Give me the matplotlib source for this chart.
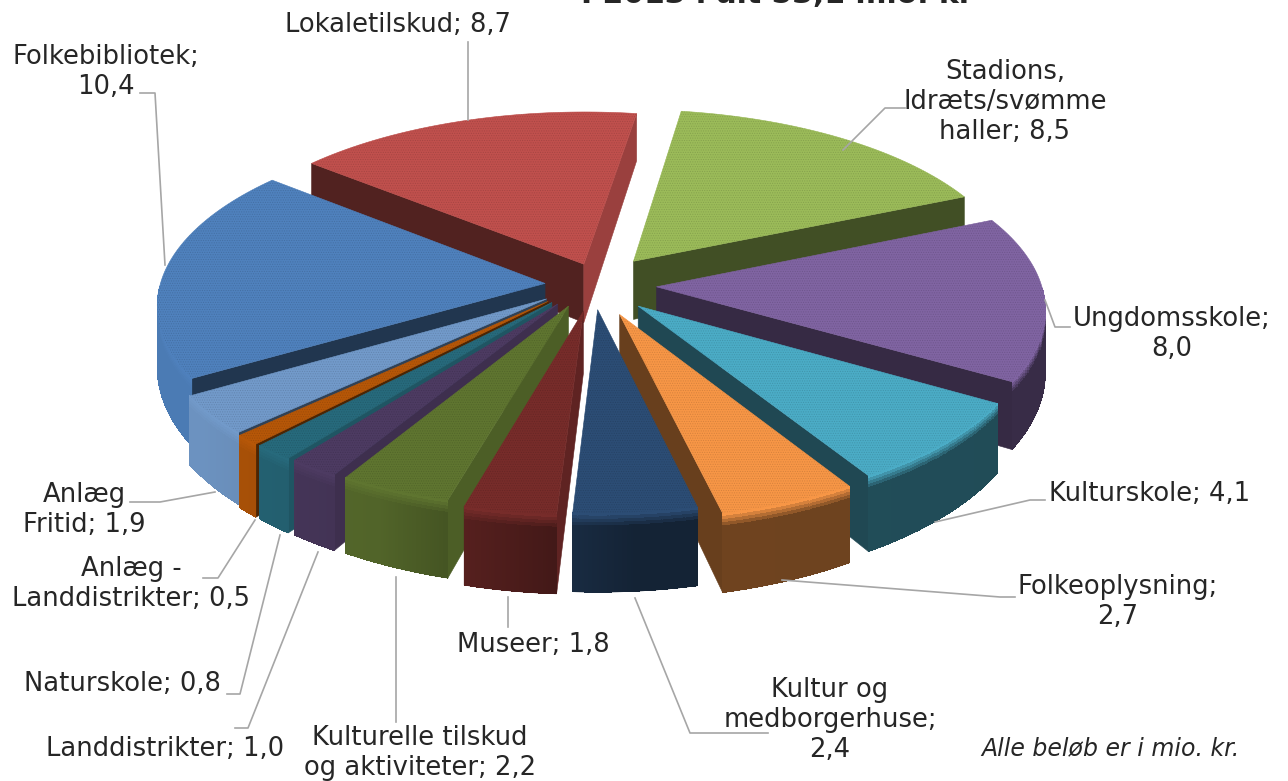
import numpy as np
import matplotlib
matplotlib.use('Agg')
import matplotlib.pyplot as plt
from matplotlib.patches import Polygon
from matplotlib.colors import to_rgb

categories = ['Folkebibliotek', 'Lokaletilskud', 'Stadions, Idræts/svømme haller', 'Ungdomsskole',
              'Kulturskole', 'Folkeoplysning', 'Kultur og medborgerhuse', 'Museer',
              'Kulturelle tilskud og aktiviteter', 'Landdistrikter', 'Naturskole',
              'Anlæg - Landdistrikter', 'Anlæg Fritid']
values = [10.4, 8.7, 8.5, 8.0, 4.1, 2.7, 2.4, 1.8, 2.2, 1.0, 0.8, 0.5, 1.9]
explode = [0.12, 0.13, 0.175, 0.165, 0.17, 0.18, 0.14, 0.15, 0.13, 0.13, 0.13, 0.13, 0.13]
# small sideways nudge on top of the explode, fraction of the radius
nudge = [-0.005, 0.022, 0.0, 0.0, -0.005, 0.0, 0.0, 0.0, -0.012, -0.018, -0.022, -0.024, -0.016]
colors = ['#4F81BD', '#C0504D', '#9BBB59', '#8064A2', '#4BACC6', '#F79646', '#2C4D75',
          '#772C2A', '#5F7530', '#4D3B62', '#276A7C', '#B65708', '#729ACA']

# label text, centre x, centre y (pixels)
labels = [
    ('Lokaletilskud; 8,7', 398, 25),
    ('Folkebibliotek;\n10,4', 106, 72),
    ('Stadions,\nIdræts/svømme\nhaller; 8,5', 1005, 102),
    ('Ungdomsskole;\n8,0', 1172, 334),
    ('Kulturskole; 4,1', 1150, 494),
    ('Folkeoplysning;\n2,7', 1118, 602),
    ('Kultur og\nmedborgerhuse;\n2,4', 830, 720),
    ('Museer; 1,8', 533, 645),
    ('Kulturelle tilskud\nog aktiviteter; 2,2', 420, 753),
    ('Landdistrikter; 1,0', 165, 749),
    ('Naturskole; 0,8', 122, 684),
    ('Anlæg -\nLanddistrikter; 0,5', 131, 584),
    ('Anlæg\nFritid; 1,9', 84, 510),
]
leaders = [
    [(468, 42), (468, 120)],
    [(140, 93), (155, 93), (165, 265)],
    [(905, 108), (885, 108), (843, 150)],
    [(1070, 327), (1055, 327), (1045, 300)],
    [(1045, 500), (1030, 500), (935, 522)],
    [(1015, 597), (1000, 597), (782, 580)],
    [(768, 733), (690, 733), (635, 598)],
    [(508, 627), (508, 597)],
    [(396, 722), (396, 577)],
    [(235, 728), (248, 728), (318, 552)],
    [(227, 694), (240, 694), (280, 535)],
    [(203, 578), (218, 578), (255, 520)],
    [(130, 502), (160, 502), (215, 492)],
]

start_angle = 239.0
cx, cy = 593, 285
rx, ry = 385, 174
persp = 0.114
height = 60

plt.rcParams['font.family'] = ['DejaVu Sans']
plt.rcParams['hatch.linewidth'] = 0.5

fig = plt.figure(figsize=(12.88, 7.81), dpi=100)
ax = fig.add_axes([0, 0, 1, 1])
ax.set_xlim(0, 1288)
ax.set_ylim(781, 0)
ax.axis('off')


def project(u, v, z=0.0):
    s = 1 / (1 - persp * v)
    return cx + rx * u * s, cy + ry * v * s + height * z * s ** 2


def mix(c1, c2, t):
    return tuple(a * (1 - t) + b * t for a, b in zip(c1, c2))


def outer_shade(deg):
    return np.interp(deg % 360, [0, 175, 205, 235, 360], [0.42, 0.45, 0.85, 0.95, 0.95])


def radial_shade(normal_deg):
    return 0.8 if 60 <= normal_deg % 360 <= 130 else 0.42


def faces_viewer(normal_deg):
    return np.cos(np.radians(normal_deg)) < 0


def radial_wall(ou, ov, u, v, top, shade):
    col = mix((0, 0, 0), top, shade)
    pts = [project(ou, ov, 0), project(u, v, 0), project(u, v, 1), project(ou, ov, 1)]
    ax.add_patch(Polygon(pts, closed=True, fc=col, ec=col, lw=0.4))


def outer_wall(u, v, degs, top):
    keep = faces_viewer(degs)
    if not keep.any():
        return
    u, v, degs = u[keep], v[keep], degs[keep]
    # silhouette first so the arc edge stays smooth, strips go on top of it
    sil = [project(a, b, 0) for a, b in zip(u, v)] + [project(a, b, 1) for a, b in zip(u[::-1], v[::-1])]
    base = mix((0, 0, 0), top, outer_shade(degs.mean()))
    ax.add_patch(Polygon(sil, closed=True, fc=base, ec=base, lw=0.4))
    levels = [0, 0.04, 0.08, 0.12, 0.16, 0.2, 1.0]
    for k in range(len(u) - 1):
        wall = mix((0, 0, 0), top, outer_shade(degs[k]))
        for a, b in zip(levels[:-1], levels[1:]):
            col = mix(top, wall, min(a / 0.16, 1))
            pts = [project(u[k], v[k], a), project(u[k + 1], v[k + 1], a),
                   project(u[k + 1], v[k + 1], b), project(u[k], v[k], b)]
            ax.add_patch(Polygon(pts, closed=True, fc=col, ec='none', lw=0, antialiased=False))


fracs = np.array(values) / sum(values) * 360
starts = start_angle + np.concatenate([[0], np.cumsum(fracs)[:-1]])
slices = []
for i, val in enumerate(values):
    a0, a1 = starts[i], starts[i] + fracs[i]
    mid = np.radians((a0 + a1) / 2)
    ou, ov = explode[i] * np.sin(mid) + nudge[i], -explode[i] * np.cos(mid)
    degs = np.linspace(a0, a1, 60)
    th = np.radians(degs)
    u = ou + np.sin(th)
    v = ov - np.cos(th)
    slices.append((ov + np.mean(v), i, a0, a1, ou, ov, u, v, degs))

for _, i, a0, a1, ou, ov, u, v, degs in sorted(slices, key=lambda s: s[0]):
    top = to_rgb(colors[i])

    if faces_viewer(a0 - 90):
        radial_wall(ou, ov, u[0], v[0], top, radial_shade(a0 - 90))
    if faces_viewer(a1 + 90):
        radial_wall(ou, ov, u[-1], v[-1], top, radial_shade(a1 + 90))
    outer_wall(u, v, degs, top)

    pts = [project(ou, ov)] + [project(a, b) for a, b in zip(u, v)]
    ax.add_patch(Polygon(pts, closed=True, fc=top, ec=top, lw=0.4))
    ax.add_patch(Polygon(pts, closed=True, fill=False, ec=mix(top, (0, 0, 0), 0.25) + (0.5,),
                         lw=0, hatch='.......'))

for line in leaders:
    ax.plot([p[0] for p in line], [p[1] for p in line], color='#a6a6a6', lw=1.2, zorder=5)

for text, x, y in labels:
    ax.text(x, y, text, ha='center', va='center', fontsize=18.6, color='#262626',
            linespacing=1.2, zorder=6)

ax.text(1110, 748, 'Alle beløb er i mio. kr.', ha='center', va='center', fontsize=17,
        style='italic', color='#262626')
ax.text(777, 3, 'I 2013 i alt 53,1 mio. kr', ha='center', va='baseline', fontsize=21.5,
        fontweight='bold', color='#262626')

fig.savefig('out.png', dpi=100)
